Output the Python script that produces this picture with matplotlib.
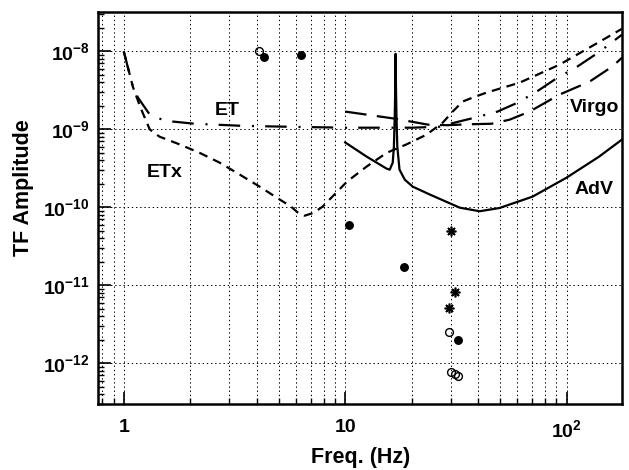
import numpy as np
import matplotlib
matplotlib.use("Agg")
import matplotlib.pyplot as plt
from matplotlib.ticker import LogLocator, NullFormatter, FixedLocator, FixedFormatter

plt.rcParams['font.family'] = ['Liberation Sans', 'DejaVu Sans']
plt.rcParams['font.weight'] = 'bold'
plt.rcParams['mathtext.fontset'] = 'custom'
plt.rcParams['mathtext.rm'] = 'Liberation Sans:bold'
plt.rcParams['mathtext.it'] = 'Liberation Sans:bold'
plt.rcParams['mathtext.bf'] = 'Liberation Sans:bold'
plt.rcParams['lines.scale_dashes'] = False

# ---- data ----
etx_f = [1.0, 1.10, 1.19, 1.31, 1.45, 1.79, 2.2, 2.71, 3.34, 4.11, 4.91, 5.7, 6.1, 6.56, 7.2,
         7.91, 10.2, 12.5, 15.4, 18.9, 23.3, 27.6, 30.6, 33.9, 37.6, 43.5, 61.4, 92.9, 141, 178]
etx_a = [1e-8, 3.5e-9, 1.9e-9, 1.0e-9, 8.06e-10, 6.4e-10, 5.0e-10, 3.74e-10, 2.63e-10, 1.84e-10,
         1.33e-10, 1.02e-10, 8.6e-11, 7.8e-11, 8.5e-11, 1.02e-10, 2.14e-10, 3.33e-10, 5.0e-10,
         6.4e-10, 8.55e-10, 1.22e-9, 1.69e-9, 2.27e-9, 2.55e-9, 2.96e-9, 3.97e-9, 6.75e-9,
         1.33e-8, 1.95e-8]

et_f = [1.0, 1.10, 1.16, 1.32, 1.5, 1.66, 2.09, 3.41, 5.5, 10, 15, 20, 26.7, 31.2, 38.4,
        48.8, 60.1, 73.2, 88.3, 112, 141, 178]
et_a = [1e-8, 3.5e-9, 2.55e-9, 1.5e-9, 1.33e-9, 1.26e-9, 1.18e-9, 1.11e-9, 1.08e-9, 1.05e-9,
        1.05e-9, 1.05e-9, 1.08e-9, 1.22e-9, 1.41e-9, 1.69e-9, 2.2e-9, 3.04e-9, 4.34e-9,
        6.4e-9, 9.9e-9, 1.64e-8]

virgo_f = [10, 16.8, 23.6, 29, 35.4, 45.8, 55.3, 68.1, 92.9, 127, 161, 178]
virgo_a = [1.69e-9, 1.37e-9, 1.15e-9, 1.13e-9, 1.16e-9, 1.18e-9, 1.33e-9, 1.69e-9, 2.79e-9,
           4.09e-9, 6.4e-9, 8.3e-9]

adv_f = [10, 12.5, 15.4, 15.9, 16.4, 16.6, 16.75, 16.85, 16.9, 16.95, 17.05, 17.2, 17.6,
         18.6, 20.2, 24.1, 32.9, 40.5, 49.8, 70.2, 100, 140, 178]
adv_a = [6.8e-10, 4.47e-10, 3.13e-10, 3.04e-10, 3.74e-10, 6.0e-10, 1.5e-9, 4.0e-9, 9.3e-9,
         4.0e-9, 1.5e-9, 6.0e-10, 3.04e-10, 2.26e-10, 1.84e-10, 1.46e-10, 9.9e-11, 8.9e-11,
         9.8e-11, 1.37e-10, 2.4e-10, 4.45e-10, 7.4e-10]

filled_f = [4.29, 6.3, 10.4, 18.4, 32.3]
filled_a = [8.5e-9, 9.1e-9, 6.0e-11, 1.74e-11, 2.01e-12]
open_f = [4.07, 29.4, 30.2, 31.2, 32.3]
open_a = [1.02e-8, 2.5e-12, 7.76e-13, 7.31e-13, 6.95e-13]
star_f = [30.2, 31.2, 29.4]
star_a = [4.92e-11, 8.13e-12, 5.13e-12]

xticks = [1, 10, 100]
xticklabels = ['1', '10', r'$10^{2}$']
yticks = [1e-12, 1e-11, 1e-10, 1e-9, 1e-8]
yticklabels = [r'$10^{-12}$', r'$10^{-11}$', r'$10^{-10}$', r'$10^{-9}$', r'$10^{-8}$']

# ---- figure ----
fig = plt.figure(figsize=(6.29, 4.70), dpi=100)
ax = fig.add_axes([98/629, 1-404/470, (622-98)/629, (404-12)/470])
ax.set_xscale('log')
ax.set_yscale('log')
ax.set_xlim(0.765, 178)
ax.set_ylim(3.0e-13, 3.2e-8)

lw = 1.6
ax.plot(etx_f, etx_a, color='black', lw=lw, linestyle=(0, (6.5, 4.5)))
ax.plot(et_f, et_a, color='black', lw=lw, linestyle=(0, (15.5, 8.5, 1.5, 8.0)))
ax.plot(virgo_f, virgo_a, color='black', lw=lw, linestyle=(0, (15.5, 7.5)))
ax.plot(adv_f, adv_a, color='black', lw=lw, linestyle='-')

ax.plot(filled_f, filled_a, linestyle='none', marker='o', ms=5.4, color='black')
ax.plot(open_f, open_a, linestyle='none', marker='o', ms=5.6, mfc='none', mec='black', mew=1.0)
ax.plot(star_f, star_a, linestyle='none', marker=(8, 2, 0), ms=7, mec='black', mew=1.2)

ax.text(2.575, 1.54e-9, 'ET', fontsize=14, fontweight='bold', ha='left', va='baseline')
ax.text(1.27, 2.48e-10, 'ETx', fontsize=14, fontweight='bold', ha='left', va='baseline')
ax.text(103.1, 1.69e-9, 'Virgo', fontsize=14, fontweight='bold', ha='left', va='baseline')
ax.text(108.7, 1.46e-10, 'AdV', fontsize=14, fontweight='bold', ha='left', va='baseline')

# ticks
ax.xaxis.set_major_locator(FixedLocator(xticks))
ax.xaxis.set_major_formatter(FixedFormatter(xticklabels))
ax.xaxis.set_minor_locator(LogLocator(base=10, subs=np.arange(2, 10), numticks=100))
ax.xaxis.set_minor_formatter(NullFormatter())
ax.yaxis.set_major_locator(FixedLocator(yticks))
ax.yaxis.set_major_formatter(FixedFormatter(yticklabels))
ax.yaxis.set_minor_locator(LogLocator(base=10, subs=np.arange(2, 10), numticks=100))
ax.yaxis.set_minor_formatter(NullFormatter())

ax.tick_params(axis='both', which='both', direction='in', top=False, right=False, color='black')
ax.tick_params(axis='x', which='major', length=9, width=1.2, pad=11, labelsize=14)
ax.tick_params(axis='x', which='minor', length=4.5, width=1.0)
ax.tick_params(axis='y', which='major', length=9, width=1.2, pad=6, labelsize=14)
ax.tick_params(axis='y', which='minor', length=4.5, width=1.0)
for lab in ax.get_xticklabels() + ax.get_yticklabels():
    lab.set_fontweight('bold')

ax.grid(True, axis='x', which='both', color='black', linestyle=(0, (1, 2)), linewidth=0.7)
ax.grid(True, axis='y', which='major', color='black', linestyle=(0, (1, 2)), linewidth=0.7)

for s in ax.spines.values():
    s.set_linewidth(1.8)

fig.text(361/629, 1-458/470, 'Freq. (Hz)', fontsize=15.5, fontweight='bold', ha='center', va='center')
fig.text(24/629, 1-188/470, 'TF Amplitude', fontsize=15.5, fontweight='bold', ha='center',
         va='center', rotation=90)

fig.savefig('out.png', dpi=100)
